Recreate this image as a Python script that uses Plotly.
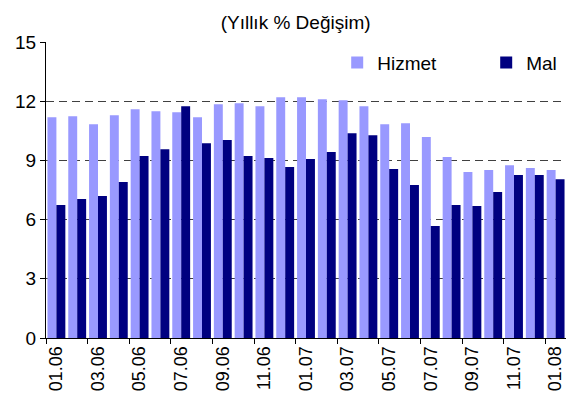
import plotly.graph_objects as go

months = ["01.06", "02.06", "03.06", "04.06", "05.06", "06.06", "07.06", "08.06",
          "09.06", "10.06", "11.06", "12.06", "01.07", "02.07", "03.07", "04.07",
          "05.07", "06.07", "07.07", "08.07", "09.07", "10.07", "11.07", "12.07", "01.08"]
hizmet = [11.19, 11.24, 10.83, 11.29, 11.59, 11.49, 11.44, 11.19, 11.84, 11.89, 11.74, 12.2,
          12.2, 12.1, 12.05, 11.74, 10.83, 10.88, 10.18, 9.17, 8.41, 8.51, 8.76, 8.61, 8.51]
mal = [6.74, 7.04, 7.19, 7.9, 9.22, 9.57, 11.74, 9.87, 10.03, 9.22, 9.12, 8.66,
       9.07, 9.42, 10.38, 10.28, 8.56, 7.75, 5.68, 6.74, 6.69, 7.4, 8.26, 8.26, 8.05]
y_ticks = [0, 3, 6, 9, 12, 15]
title_text = "(Yıllık % Değişim)"

FONT = "Liberation Sans, Arial, sans-serif"

fig = go.Figure()
fig.add_trace(go.Bar(x=months, y=hizmet, name="Hizmet", marker=dict(color="#9999FF", line=dict(width=0))))
fig.add_trace(go.Bar(x=months, y=mal, name="Mal", marker=dict(color="#000080", line=dict(width=0))))

# page body has an 8px margin, so the figure is smaller and margins shifted
fig.update_layout(
    width=558, height=394,
    margin=dict(l=38, r=0, t=34, b=64, autoexpand=False),
    paper_bgcolor="white", plot_bgcolor="white",
    barmode="group", bargap=0.14, bargroupgap=0,
    font=dict(family=FONT, size=19, color="black"),
    title=dict(text=title_text, x=0.48, xref="paper", xanchor="center",
               y=1 - 14 / 394, yref="container", yanchor="middle",
               font=dict(family=FONT, size=19, color="black")),
    legend=dict(orientation="h", x=0.56, xanchor="left", y=0.93, yanchor="middle",
                bgcolor="rgba(0,0,0,0)", font=dict(family=FONT, size=19),
                entrywidth=104, entrywidthmode="pixels", tracegroupgap=0),
    showlegend=True,
)
fig.update_xaxes(
    type="category", categoryorder="array", categoryarray=months,
    tickmode="linear", tick0=0, dtick=2, tickson="boundaries",
    tickangle=-90, ticks="outside", ticklen=5, tickcolor="black",
    showline=True, linecolor="black", linewidth=1, showgrid=False,
    tickfont=dict(family=FONT, size=18), range=[-0.5, 24.5], automargin=False,
)
fig.update_yaxes(
    range=[0, 15], tickvals=y_ticks, ticks="outside", ticklen=5, tickcolor="black",
    showline=True, linecolor="black", linewidth=1,
    showgrid=True, gridcolor="#404040", griddash="8px,5px", gridwidth=1,
    zeroline=False, tickfont=dict(family=FONT, size=19), automargin=False,
)

fig.write_html("out.html")
